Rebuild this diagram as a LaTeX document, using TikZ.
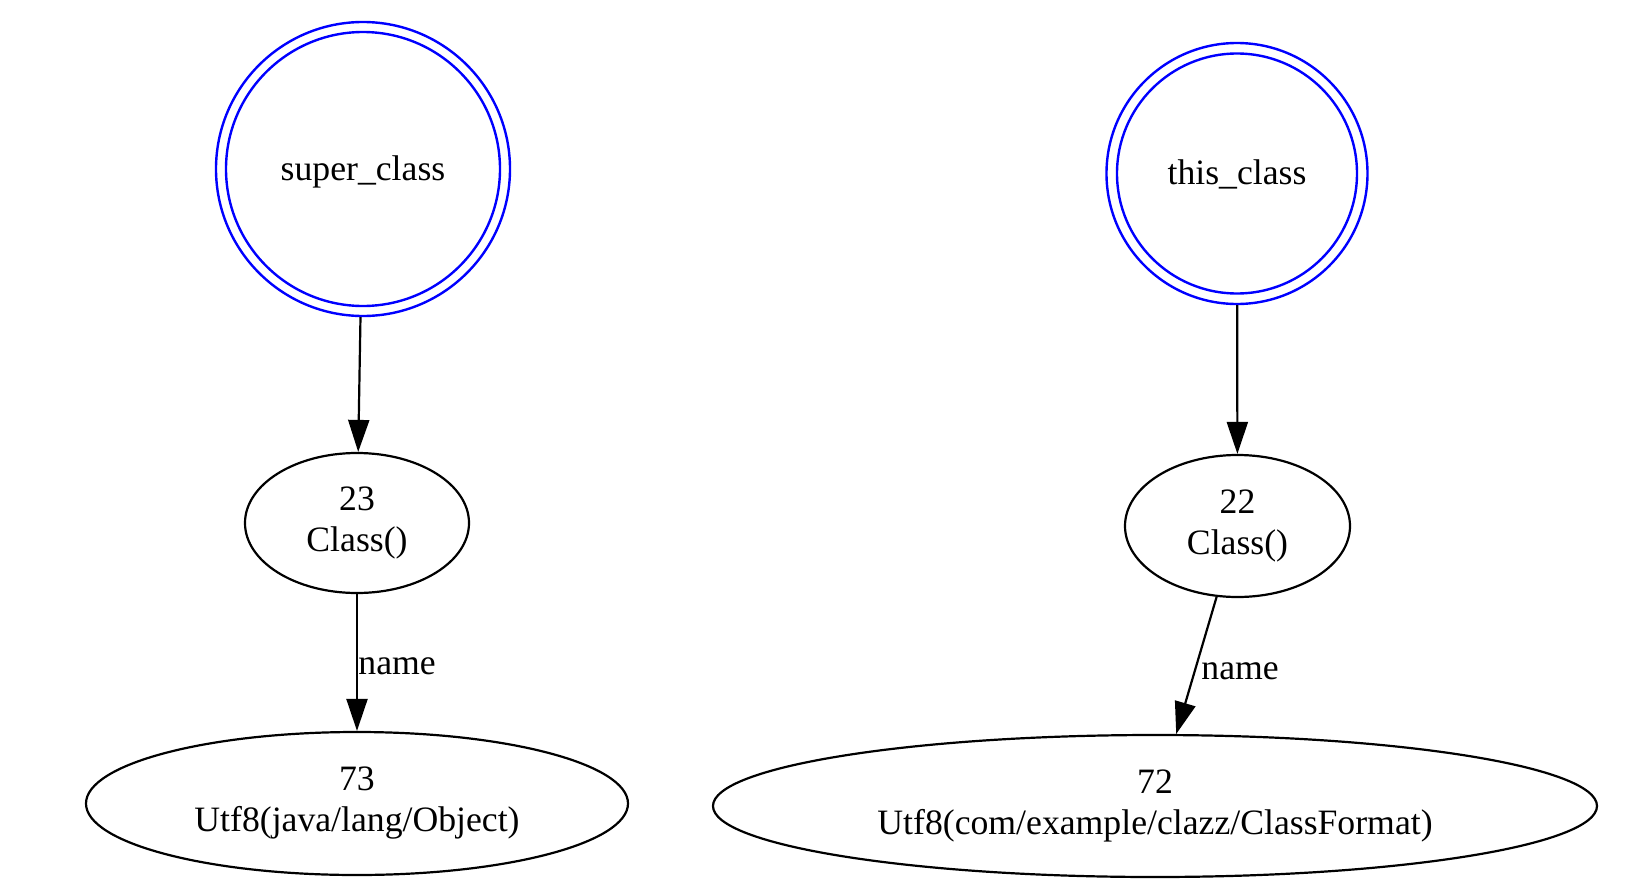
\documentclass[tikz,border=0pt]{standalone}
\usepackage{fontspec}
\setmainfont{Liberation Serif}
\usetikzlibrary{shapes.geometric,arrows.meta}
\begin{document}
\begin{tikzpicture}[x=0.5pt,y=-0.5pt,
  font=\fontsize{17.85pt}{20.5pt}\selectfont,
  startouter/.style={circle,draw=blue,line width=1.2pt,inner sep=0pt},
  startinner/.style={circle,draw=blue,line width=1.2pt,inner sep=0pt,text height=12.5pt,text depth=1.5pt},
  cpnode/.style={ellipse,draw=black,line width=1.1pt,inner sep=0pt,align=center},
  edgelabel/.style={anchor=base west,inner sep=0pt},
  conn/.style={line width=1.1pt,-{Triangle[length=16pt,width=10.5pt]}}
]
\useasboundingbox[fill=white] (0,0) rectangle (1640,884);

% start nodes (double circles)
\node[startouter,minimum size=147pt] (super) at (363,169) {};
\node[startinner,minimum size=137pt] (superin) at (super.center) {super\_class};
\node[startouter,minimum size=130.5pt] (this) at (1237,173.5) {};
\node[startinner,minimum size=120pt] (thisin) at (this.center) {this\_class};

% constant pool nodes
\node[cpnode,minimum width=112pt,minimum height=70pt] (n23) at (357,523) {23\\Class()};
\node[cpnode,minimum width=112.5pt,minimum height=71pt] (n22) at (1237.5,526) {22\\Class()};
\node[cpnode,minimum width=271pt,minimum height=71.5pt] (n73) at (357,803.5) {73\\Utf8(java/lang/Object)};
\node[cpnode,minimum width=442pt,minimum height=71pt] (n72) at (1155,806) {72\\Utf8(com/example/clazz/ClassFormat)};

% connectors
\draw[conn] (super) -- (n23);
\draw[conn] (this) -- (n22);
\draw[conn] (n23) -- (n73);
\draw[conn] (n22) -- (n72);

% edge labels
\node[edgelabel] (l1) at (358,674) {name};
\node[edgelabel] (l2) at (1201,679) {name};
\end{tikzpicture}
\end{document}
